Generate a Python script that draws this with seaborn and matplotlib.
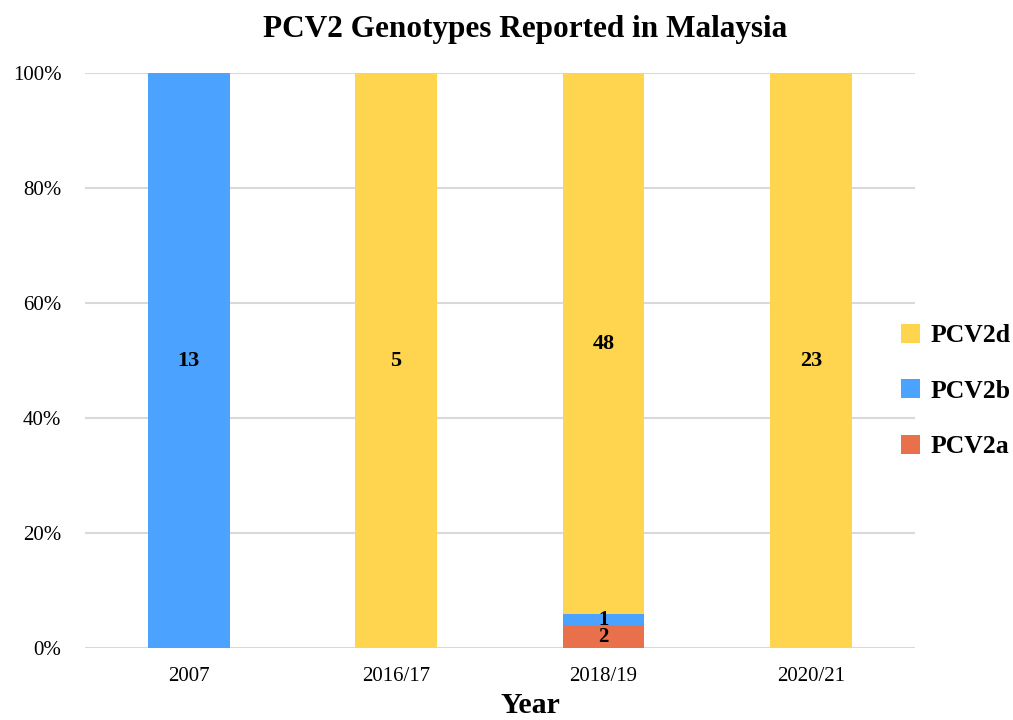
import matplotlib
matplotlib.use("Agg")
import matplotlib.pyplot as plt
from matplotlib.patches import Patch
import seaborn as sns
import numpy as np
import pandas as pd

years = ["2007", "2016/17", "2018/19", "2020/21"]
pcv2a = [0, 0, 2, 0]
pcv2b = [13, 0, 1, 0]
pcv2d = [0, 5, 48, 23]

genotypes = ["PCV2a", "PCV2b", "PCV2d"]
colors = {"PCV2a": "#E8704A", "PCV2b": "#4BA3FF", "PCV2d": "#FFD550"}

sns.set_theme(style="white")
plt.rcParams['font.family'] = ['Liberation Serif', 'DejaVu Serif']
plt.rcParams['text.color'] = 'black'
plt.rcParams['axes.labelcolor'] = 'black'

counts = pd.DataFrame({"PCV2a": pcv2a, "PCV2b": pcv2b, "PCV2d": pcv2d}, index=years)
totals = counts.sum(axis=1)
pct = counts.div(totals, axis=0) * 100

fig = plt.figure(figsize=(10.13, 7.2), dpi=100)
ax = fig.add_axes([0.0839, 0.1, 0.8190, 0.7986])

bottom = np.zeros(len(years))
for g in genotypes:
    vals = pct[g].values
    sns.barplot(x=years, y=vals, bottom=bottom, color=colors[g], width=0.395,
                saturation=1, ax=ax, linewidth=0)
    for i, (v, c) in enumerate(zip(vals, counts[g].values)):
        if c > 0:
            small = v < 5
            ax.text(i, bottom[i] + v / 2, str(c), ha="center", va="center",
                    fontsize=15 if small else 16, fontweight="bold", color="black")
    bottom = bottom + vals

ax.set_xlim(-0.5, 3.5)
ax.set_ylim(0, 100)
ax.set_yticks([0, 20, 40, 60, 80, 100])
ax.set_yticklabels([f"{t}%" for t in [0, 20, 40, 60, 80, 100]])
ax.yaxis.grid(True, color="#D9D9D9", linewidth=1.5)
ax.set_axisbelow(True)
for s in ax.spines.values():
    s.set_visible(False)
ax.tick_params(axis="both", length=0, labelsize=15, colors="black")
ax.tick_params(axis="y", pad=17)
ax.tick_params(axis="x", pad=14)
ax.set_xlabel("Year", fontsize=21.5, fontweight="bold", color="black")
ax.xaxis.set_label_coords(0.537, -0.077)
ax.set_ylabel("")
ax.set_title("PCV2 Genotypes Reported in Malaysia", fontsize=22.5, fontweight="bold",
             x=0.53, pad=26, color="black")

handles = [Patch(facecolor=colors[g], edgecolor="none", label=g) for g in ["PCV2d", "PCV2b", "PCV2a"]]
leg = fig.legend(handles=handles, loc="center left", bbox_to_anchor=(0.889, 0.457), frameon=False,
                 prop={"size": 18.5, "weight": "bold"}, handlelength=0.75, handleheight=0.75,
                 handletextpad=0.4, labelspacing=1.25, borderaxespad=0, borderpad=0,
                 labelcolor="black")

fig.savefig("out.png", dpi=100)
